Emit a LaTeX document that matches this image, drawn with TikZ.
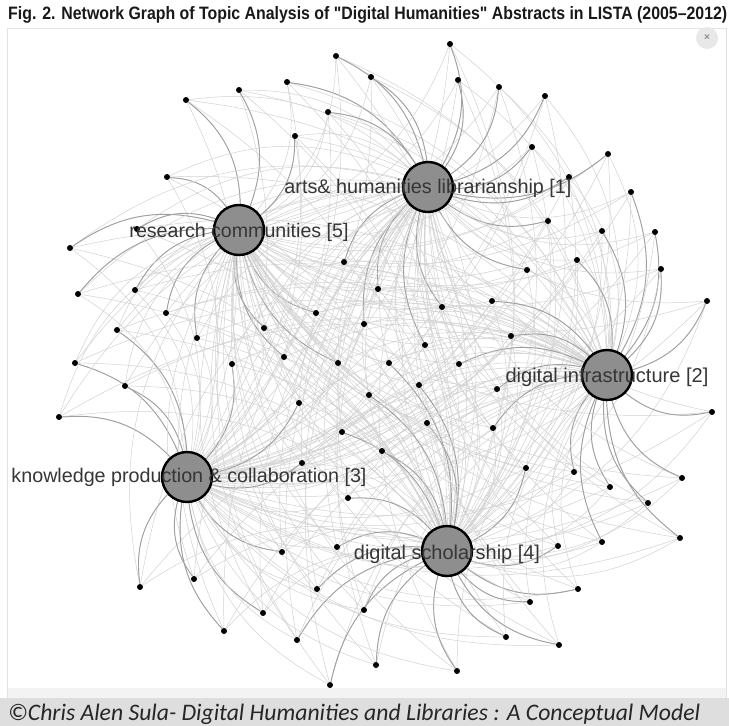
\documentclass[tikz,border=0pt]{standalone}
\usepackage{fontspec}
\setmainfont{Liberation Sans}
\newfontfamily\titlefont{Liberation Sans}
\newfontfamily\captionfont{Carlito}
\usepackage{graphicx}
\usetikzlibrary{backgrounds}
\definecolor{ngInk}{HTML}{363636}
\definecolor{ngHub}{HTML}{8E8E8E}
\definecolor{ngEdge}{HTML}{D2D2D2}
\definecolor{ngMain}{HTML}{A0A0A0}
\definecolor{ngBand}{HTML}{DEDEDE}
\definecolor{ngStrip}{HTML}{F3F3F3}
\definecolor{ngFrame}{HTML}{E2E2E2}
\tikzset{
  ng diagram/.style={x=1pt, y=-1pt, line cap=round, line join=round},
  ng hub/.style={circle, draw=black, fill=ngHub, line width=2.4pt,
    minimum size=50pt, inner sep=0pt},
  ng doc/.style={circle, fill=black, minimum size=6pt, inner sep=0pt},
  ng edge/.style={draw=ngEdge, line width=0.5pt},
  ng main edge/.style={draw=ngMain, line width=0.9pt},
  ng label/.style={text=ngInk, inner sep=0pt, anchor=base},
  ng title/.style={text=black!90, inner sep=0pt, anchor=base west},
  ng caption/.style={text=black!85, inner sep=0pt, anchor=base west},
  ng close/.style={circle, fill=black!9, text=black!45, minimum size=22pt,
    inner sep=0pt, font=\bfseries}
}

\begin{document}
\begin{tikzpicture}[ng diagram]
\useasboundingbox (0,0) rectangle (729,726);
\begin{scope}[on background layer]
  \fill[white] (0,0) rectangle (729,726);
  \fill[ngStrip] (7,688) rectangle (726,698);
  \draw[ngFrame] (7,28) rectangle (726,698);
  \fill[ngBand] (0,698) rectangle (729,726);
\end{scope}
% topics
\node[ng hub] (h1) at (428,187) {};
\node[ng hub] (h2) at (607,375) {};
\node[ng hub] (h3) at (187,477) {};
\node[ng hub] (h4) at (447,551) {};
\node[ng hub] (h5) at (239,230) {};
% abstracts, last field = strongest topic
\foreach \x/\y/\p [count=\i] in {186/100/5, 239/90/5, 167/177/5, 137/229/5, 70/248/5, 78/294/5,
    135/290/5, 166/313/5, 117/330/3, 197/338/5, 264/328/5,
    287/82/1, 336/56/1, 371/77/1, 450/44/1, 458/80/1, 499/87/1, 328/112/1, 295/136/5,
    545/96/1, 532/147/1, 608/154/1, 569/177/1, 631/192/2, 548/221/1, 602/231/2,
    655/232/2, 577/260/2, 661/269/2, 527/270/1, 707/301/2,
    344/262/1, 378/289/1, 316/313/5, 364/324/1, 442/307/1, 492/301/2, 425/345/1,
    284/357/5, 511/336/2,
    75/363/3, 125/386/3, 59/417/3, 232/364/3, 140/587/3, 194/579/3, 224/631/3, 263/613/3,
    338/363/5, 389/363/4, 459/364/2, 419/385/4, 497/389/2, 299/403/3, 369/395/4,
    427/423/4, 493/428/2, 342/432/4, 382/451/4, 302/463/3, 348/498/4, 282/552/3,
    337/547/4, 317/589/4, 364/610/4, 297/640/4, 376/665/4, 457/671/4, 330/685/4,
    712/412/2, 526/468/4, 574/472/2, 610/487/2, 682/478/2, 648/503/2, 680/538/2,
    558/546/4, 602/542/2, 578/589/4, 530/602/4, 506/637/4, 559/645/4}{
  \node[ng doc] (d\i) at (\x,\y) {};
  \begin{scope}[on background layer]
    \foreach \h in {1,...,5}
      \draw[ng edge] (d\i) to[bend left=25] (h\h);
    \draw[ng main edge] (d\i) to[bend left=25] (h\p);
  \end{scope}
}
% topic labels
\node[ng label] (l1) at ([yshift=-6pt]h1.center) {\resizebox{287pt}{!}{arts\& humanities librarianship [1]}};
\node[ng label] (l2) at ([yshift=-7pt]h2.center) {\resizebox{203pt}{!}{digital infrastructure [2]}};
\node[ng label] (l3) at ([xshift=2pt,yshift=-5pt]h3.center) {\resizebox{355pt}{!}{knowledge production \& collaboration [3]}};
\node[ng label] (l4) at ([yshift=-8pt]h4.center) {\resizebox{186pt}{!}{digital scholarship [4]}};
\node[ng label] (l5) at ([yshift=-7pt]h5.center) {\resizebox{219pt}{!}{research communities [5]}};
% heading and credit
\node[ng title] (title) at (8,19) {\resizebox{719pt}{13pt}{\titlefont\bfseries Fig. 2. Network Graph of Topic Analysis of "Digital Humanities" Abstracts in LISTA (2005–2012)}};
\node[ng close] (close) at (707,38) {×};
\node[ng caption] (credit) at (8,720) {\resizebox{692pt}{!}{\captionfont\itshape ©Chris Alen Sula- Digital Humanities and Libraries : A Conceptual Model}};
\end{tikzpicture}
\end{document}
